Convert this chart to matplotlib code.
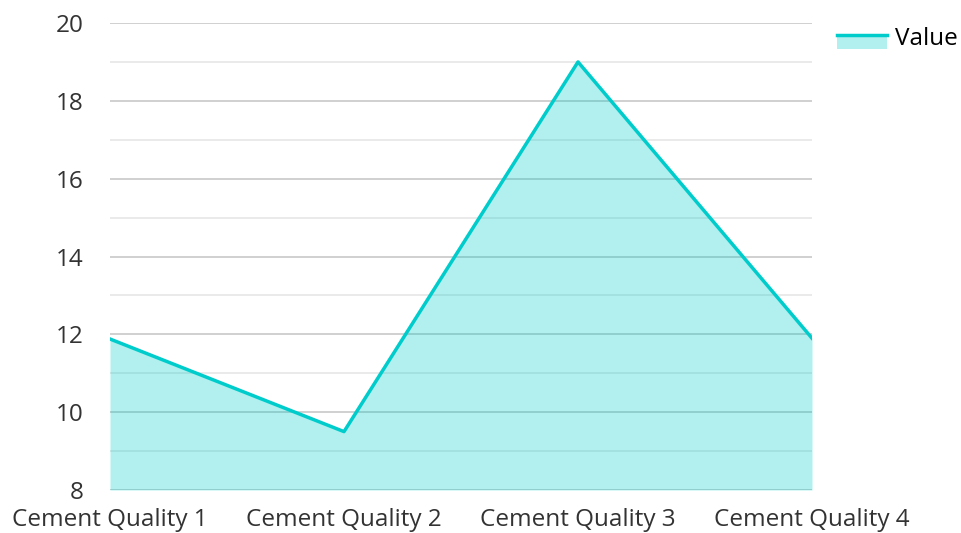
import matplotlib
matplotlib.use('Agg')
import matplotlib.pyplot as plt
from matplotlib.patches import Rectangle
from matplotlib.lines import Line2D
from matplotlib.legend_handler import HandlerBase

plt.rcParams['font.family'] = ['Open Sans', 'DejaVu Sans']

# Данные
categories = ['Cement Quality 1', 'Cement Quality 2', 'Cement Quality 3', 'Cement Quality 4']
values = [11.88, 9.5, 19.0, 11.9]
y_ticks = [8, 10, 12, 14, 16, 18, 20]
y_minor = [9, 11, 13, 15, 17, 19]

line_color = '#00CCCC'
fill_color = '#00CCCC'


# Значок легенды: заливка с линией по верхнему краю
class AreaHandler(HandlerBase):
    def create_artists(self, legend, orig_handle, xdescent, ydescent, width, height, fontsize, trans):
        top = -ydescent + height / 2 + 1
        rect = Rectangle((-xdescent, top - 10), width, 10, facecolor=fill_color,
                         alpha=0.3, edgecolor='none', transform=trans)
        line = Line2D([-xdescent, -xdescent + width], [top, top],
                      color=line_color, linewidth=2.5, transform=trans)
        return [rect, line]


fig = plt.figure(figsize=(9.62, 5.33), dpi=100)
ax = fig.add_axes([110 / 962, 1 - 490 / 533, 702 / 962, 467 / 533])

x = list(range(len(categories)))
ax.fill_between(x, values, 8, color=fill_color, alpha=0.3, linewidth=0, zorder=2)
ax.plot(x, values, color=line_color, linewidth=2.5, zorder=3)

ax.set_xlim(0, len(categories) - 1)
ax.set_ylim(8, 20)
ax.set_yticks(y_ticks)
ax.set_yticks(y_minor, minor=True)
ax.set_xticks(x)
ax.set_xticklabels(categories)

# Сетка под заливкой
ax.set_axisbelow(True)
ax.grid(True, axis='y', which='major', color='#c8c8c8', linewidth=1.2)
ax.grid(True, axis='y', which='minor', color='#e6e6e6', linewidth=1.2)

for s in ax.spines.values():
    s.set_visible(False)
ax.tick_params(axis='both', which='both', length=0, labelsize=17.5, labelcolor='#333333')
ax.tick_params(axis='y', pad=19)
ax.tick_params(axis='x', pad=13)

# Легенда
fig.legend([object()], ['Value'], handler_map={object: AreaHandler()},
           loc='upper left', bbox_to_anchor=(820 / 962, 1 - 10 / 533),
           frameon=False, fontsize=17.5, handlelength=2.05, handleheight=0.6,
           handletextpad=0.35, borderpad=0.2)

fig.savefig('out.png', dpi=100)
